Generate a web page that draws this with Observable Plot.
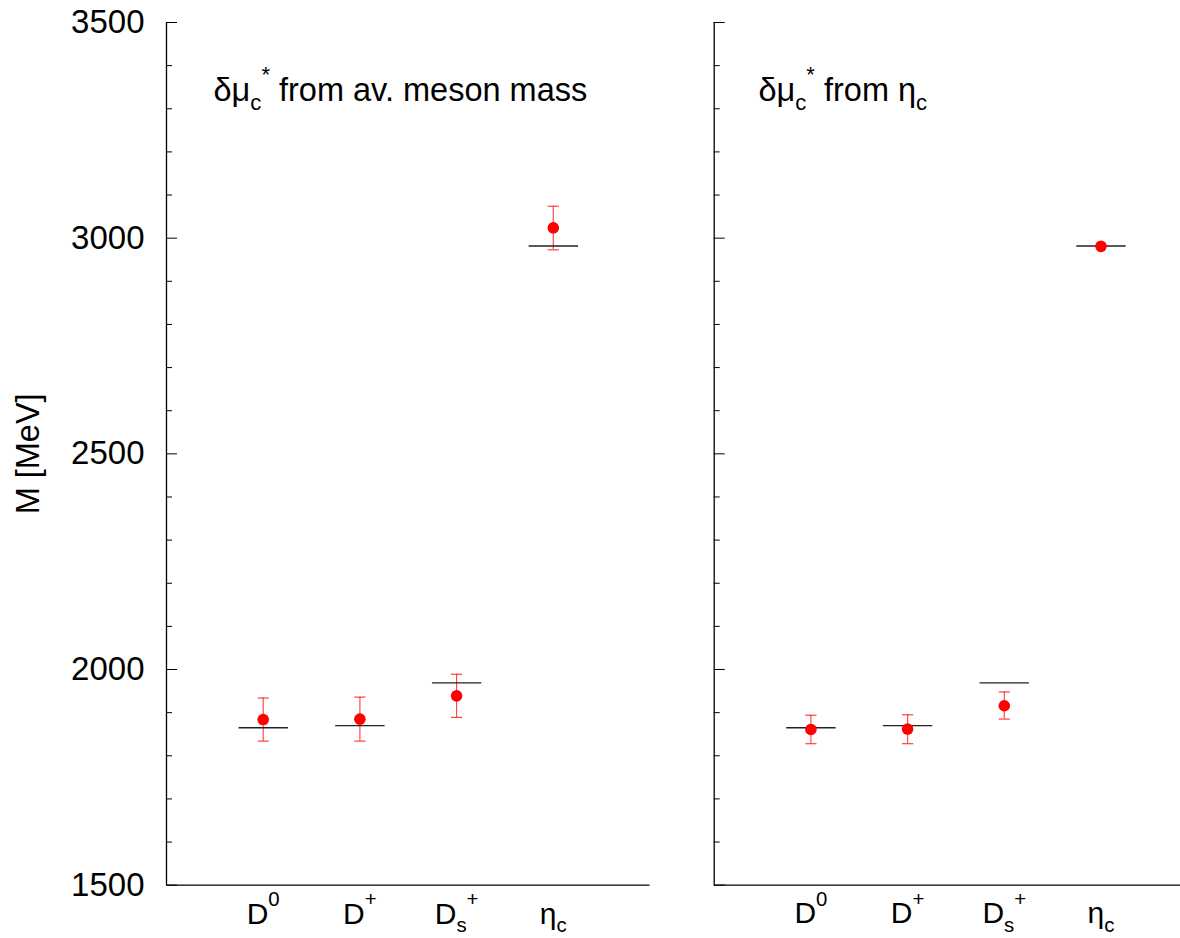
<!DOCTYPE html>
<html><head><meta charset="utf-8">
<script src="https://cdn.jsdelivr.net/npm/d3@7"></script>
<script src="https://cdn.jsdelivr.net/npm/@observablehq/plot@0.6"></script>
<style>
html,body{margin:0;padding:0;background:#fff;overflow:hidden;}
#wrap{position:relative;width:1180px;height:938px;overflow:hidden;background:#fff;}
#wrap svg{position:absolute;top:0;}
</style></head><body><div id="wrap"></div>
<script>
// ---- data ----
const mesons = ["D^0", "D^+", "D_s^+", "η_c"];
const physicalMass = [1865, 1870, 1969, 2982];
const avMass = [1884, 1885, 1939, 3024];
const avLow = [1834, 1834, 1889, 2973];
const avHigh = [1934, 1936, 1989, 3074];
const etaMass = [1861, 1862, 1916, 2981];
const etaLow = [1828, 1828, 1885, null];
const etaHigh = [1894, 1895, 1948, null];
const panelTitles = ["δμ_c^* from av. meson mass", "δμ_c^* from η_c"];
const majorTicks = [1500, 2000, 2500, 3000, 3500];
const minorTicks = [1600, 1700, 1800, 1900, 2100, 2200, 2300, 2400, 2600, 2700, 2800, 2900, 3100, 3200, 3300, 3400];
const yLabel = "M [MeV]";

const FONT = "'Liberation Sans', Arial, Helvetica, sans-serif";
const hline = {draw(ctx, size) { const r = Math.sqrt(size / Math.PI); ctx.moveTo(-r, 0); ctx.lineTo(r, 0); }};

function panel(values, lows, highs, title, showLabels, opts) {
  const rows = mesons.map((m, i) => ({pos: i + 1, m, phys: physicalMass[i], v: values[i], lo: lows[i], hi: highs[i]}));
  const err = rows.filter(d => d.lo != null);
  const marks = [
    Plot.axisY({ticks: minorTicks, tickSize: -6, tickFormat: () => "", label: null}),
    Plot.axisY({ticks: majorTicks, tickSize: -11, tickPadding: 33, fontSize: 33,
      tickFormat: showLabels ? (d => String(d)) : (() => ""), label: null}),
    Plot.axisX({ticks: [1, 2, 3, 4], tickSize: 0, tickPadding: 17, fontSize: 30,
      tickFormat: p => mesons[p - 1], label: null}),
    Plot.ruleX([0], {stroke: "#000", strokeWidth: 1.3}),
    Plot.ruleY([1500], {stroke: "#000", strokeWidth: 1.3}),
    Plot.ruleX(err, {x: "pos", y1: "lo", y2: "hi", stroke: "red", strokeOpacity: 0.7, strokeWidth: 1.2}),
    Plot.dot(err, {x: "pos", y: "lo", symbol: hline, r: 5.6, stroke: "red", strokeOpacity: 0.75, strokeWidth: 1.2}),
    Plot.dot(err, {x: "pos", y: "hi", symbol: hline, r: 5.6, stroke: "red", strokeOpacity: 0.75, strokeWidth: 1.2}),
    Plot.dot(rows, {x: "pos", y: "phys", symbol: hline, r: 24.7, stroke: "#222", strokeWidth: 1.4}),
    Plot.dot(rows, {x: "pos", y: "v", r: 5.8, fill: "red", stroke: "none"}),
    Plot.text([title], {frameAnchor: "top-left", textAnchor: "start", lineAnchor: "top",
      dx: opts.titleDx, dy: 55, fontSize: 32.5, fill: "#000"})
  ];
  if (showLabels) marks.push(Plot.text([yLabel], {frameAnchor: "left", rotate: -90, dx: -138,
    textAnchor: "middle", lineAnchor: "middle", fontSize: 32.5, fill: "#000"}));
  return Plot.plot({
    width: opts.width, height: 938,
    marginTop: 22, marginBottom: 53.3, marginLeft: opts.ml, marginRight: opts.mr,
    x: {domain: [0, 5]},
    y: {domain: [1500, 3500]},
    style: {fontFamily: FONT, background: "transparent", color: "#000", overflow: "visible"},
    marks
  });
}

function richify(el) {
  const s = el.textContent;
  if (!/[\^_]/.test(s)) return;
  const fs = parseFloat(getComputedStyle(el).fontSize) || 28;
  const segs = [];
  let buf = "";
  for (let i = 0; i < s.length; i++) {
    const c = s[i];
    if ((c === "^" || c === "_") && i + 1 < s.length) {
      if (buf) { segs.push({t: buf, k: "base"}); buf = ""; }
      segs.push({t: s[i + 1], k: c === "^" ? "sup" : "sub"});
      i++;
    } else buf += c;
  }
  if (buf) segs.push({t: buf, k: "base"});
  while (el.firstChild) el.removeChild(el.firstChild);
  const ns = "http://www.w3.org/2000/svg";
  let cur = 0;
  for (const seg of segs) {
    const target = seg.k === "sub" ? 0.3 * fs : seg.k === "sup" ? -0.57 * fs : 0;
    const ts = document.createElementNS(ns, "tspan");
    ts.setAttribute("dy", (target - cur).toFixed(2));
    if (seg.k !== "base") ts.setAttribute("font-size", (0.68 * fs).toFixed(1));
    ts.textContent = seg.t;
    el.appendChild(ts);
    cur = target;
  }
}

const wrap = document.getElementById("wrap");
const left = panel(avMass, avLow, avHigh, panelTitles[0], true, {width: 680, ml: 166, mr: 30.5, titleDx: 47});
left.style.left = "0px";
wrap.appendChild(left);
const right = panel(etaMass, etaLow, etaHigh, panelTitles[1], false, {width: 527.2, ml: 33.7, mr: 10, titleDx: 44.3});
right.style.left = "680px";
wrap.appendChild(right);
for (const t of wrap.querySelectorAll("text")) richify(t);
</script></body></html>
